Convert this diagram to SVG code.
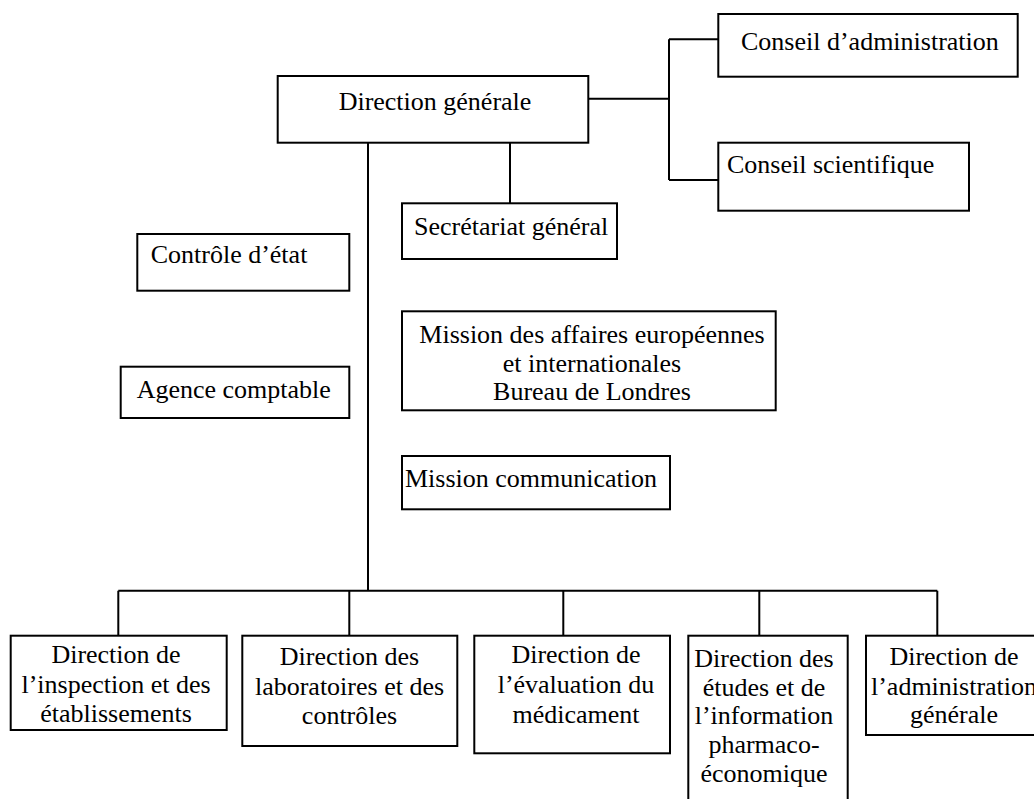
<svg xmlns="http://www.w3.org/2000/svg" width="1034" height="799" viewBox="0 0 1034 799">
<style>
.box{fill:#fff;stroke:#000;stroke-width:2}
.ln{fill:none;stroke:#000;stroke-width:2}
text{font-family:"Liberation Serif","Times New Roman",serif;font-size:26px;fill:#000}
.c{text-anchor:middle}
</style>
<rect width="1034" height="799" fill="#fff"/>
<g id="connectors">
<path class="ln" d="M588,98.7H669M669,39.3V180M669,39.3H718.3M669,180H718.3"/>
<path class="ln" d="M510,142.7V203.3"/>
<path class="ln" d="M368,142.7V590.7"/>
<path class="ln" d="M118.3,590.7H937.3M118.3,590.7V635.7M349.3,590.7V635.7M563.3,590.7V635.7M759.3,590.7V635.7M937.3,590.7V635.7"/>
</g>
<g id="direction-generale">
<rect class="box" x="277.7" y="76" width="310.6" height="66.7"/>
<text class="c" x="435" y="110">Direction générale</text>
</g>
<g id="conseil-administration">
<rect class="box" x="718.3" y="14" width="299.4" height="62.7"/>
<text x="741" y="50">Conseil d’administration</text>
</g>
<g id="conseil-scientifique">
<rect class="box" x="718.3" y="142.7" width="250.7" height="68"/>
<text x="727" y="173">Conseil scientifique</text>
</g>
<g id="controle-etat">
<rect class="box" x="137.3" y="234" width="212" height="56.7"/>
<text x="150.7" y="263.3">Contrôle d’état</text>
</g>
<g id="agence-comptable">
<rect class="box" x="120.7" y="366.7" width="228.6" height="51.3"/>
<text x="136.7" y="398.3">Agence comptable</text>
</g>
<g id="secretariat-general">
<rect class="box" x="402" y="203.3" width="215" height="55.7"/>
<text x="414" y="235">Secrétariat général</text>
</g>
<g id="mission-affaires">
<rect class="box" x="402" y="311.3" width="373.7" height="99"/>
<text class="c" x="592" y="343.3">Mission des affaires européennes</text>
<text class="c" x="592" y="371.7">et internationales</text>
<text class="c" x="592" y="400">Bureau de Londres</text>
</g>
<g id="mission-communication">
<rect class="box" x="402" y="456" width="268" height="53.3"/>
<text x="405" y="486.7">Mission communication</text>
</g>
<g id="dir-inspection">
<rect class="box" x="10.7" y="635.7" width="216" height="94.3"/>
<text class="c" x="116" y="663.3">Direction de</text>
<text class="c" x="116" y="693.3">l’inspection et des</text>
<text class="c" x="116" y="721.7">établissements</text>
</g>
<g id="dir-laboratoires">
<rect class="box" x="242.3" y="635.7" width="215" height="110.3"/>
<text class="c" x="349.5" y="665">Direction des</text>
<text class="c" x="349.5" y="695">laboratoires et des</text>
<text class="c" x="349.5" y="724">contrôles</text>
</g>
<g id="dir-evaluation">
<rect class="box" x="474.3" y="635.7" width="195.7" height="117.6"/>
<text class="c" x="576" y="663.3">Direction de</text>
<text class="c" x="576" y="693.3">l’évaluation du</text>
<text class="c" x="576" y="723.3">médicament</text>
</g>
<g id="dir-etudes">
<rect class="box" x="688.3" y="635.7" width="159.4" height="180"/>
<text class="c" x="764" y="666.7">Direction des</text>
<text class="c" x="764" y="696">études et de</text>
<text class="c" x="764" y="724.3">l’information</text>
<text class="c" x="764" y="753.3">pharmaco-</text>
<text class="c" x="764" y="781.7">économique</text>
</g>
<g id="dir-administration">
<rect class="box" x="866" y="635.7" width="200" height="99.3"/>
<text class="c" x="954" y="665">Direction de</text>
<text class="c" x="954" y="695">l’administration</text>
<text class="c" x="954" y="723.3">générale</text>
</g>
</svg>
